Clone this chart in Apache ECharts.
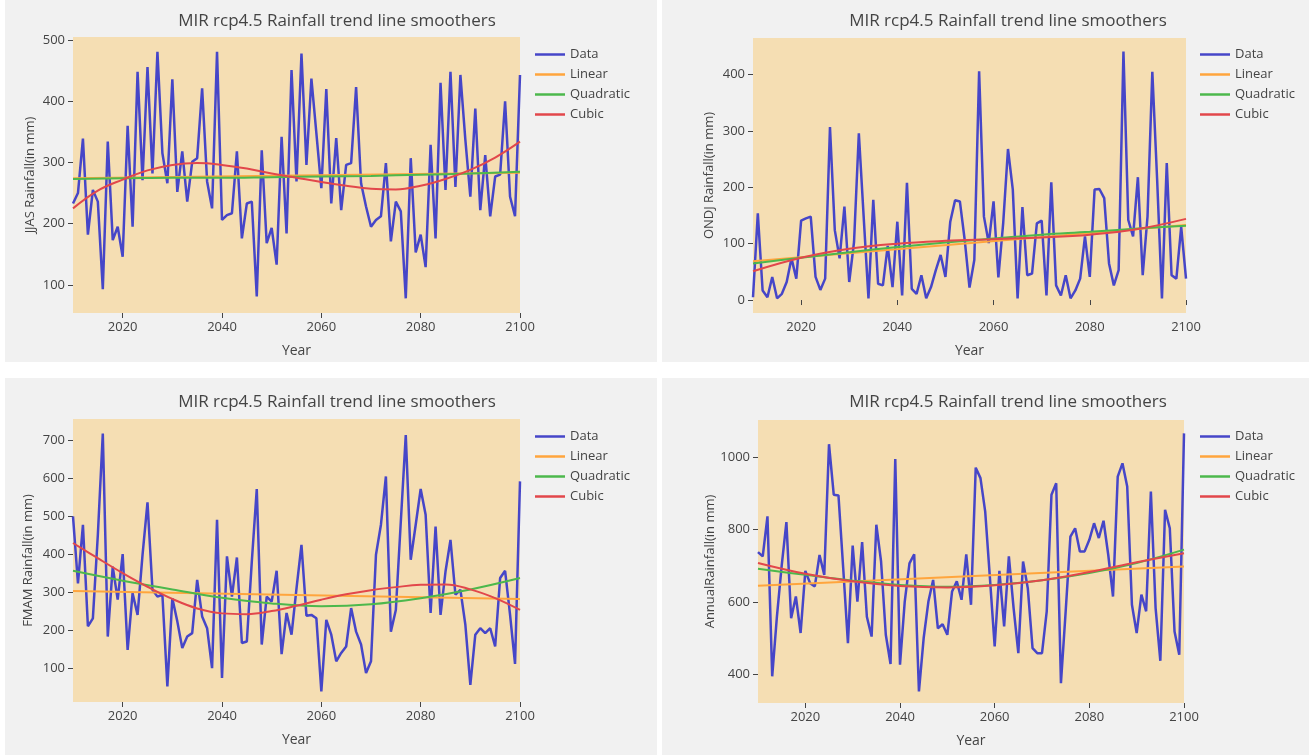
<!DOCTYPE html>
<html>
<head>
<meta charset="utf-8">
<script src="https://cdn.jsdelivr.net/npm/echarts@6/dist/echarts.min.js"></script>
<style>
html,body{margin:0;padding:0;background:#fff;}
#chart{width:1309px;height:755px;}
</style>
</head>
<body>
<div id="chart"></div>
<script>
// ---- data ----
const titleText = 'MIR rcp4.5 Rainfall trend line smoothers';
const seriesNames = ['Data', 'Linear', 'Quadratic', 'Cubic'];
const xTicks = [2020, 2040, 2060, 2080, 2100];
const yTicks1 = [100, 200, 300, 400, 500];
const yTicks2 = [0, 100, 200, 300, 400];
const yTicks3 = [100, 200, 300, 400, 500, 600, 700];
const yTicks4 = [400, 600, 800, 1000];
const yNames = ['JJAS Rainfall(in mm)', 'ONDJ Rainfall(in mm)', 'FMAM Rainfall(in mm)', 'AnnualRainfall(in mm)'];

const years = [];
for (let y = 2010; y <= 2100; y++) years.push(y);
const trendYears10 = [2010, 2020, 2030, 2040, 2050, 2060, 2070, 2080, 2090, 2100];
const trendYears5 = [2010, 2015, 2020, 2025, 2030, 2035, 2040, 2045, 2050, 2055, 2060, 2065, 2070, 2075, 2080, 2085, 2090, 2095, 2100];
const linearYears = [2010, 2100];

const jjas = [233,250,339,182,255,236,93,334,173,195,
  146,360,195,448,271,456,282,481,315,266,
  436,252,318,236,301,307,421,269,225,481,
  206,214,217,318,176,233,236,81,320,168,
  193,133,342,184,451,269,478,296,437,348,
  258,420,233,340,222,296,299,423,266,228,
  195,206,212,299,171,236,220,78,307,153,
  182,129,329,176,430,255,448,260,443,337,
  244,388,222,312,212,277,280,400,244,212,443];
const jjasLinear = [274, 283];
const jjasQuad = [273, 274, 275, 275, 276, 277, 278, 280, 282, 285];
const jjasCubic = [225,254,272,287,296,299,296,290,282,275,268,262,257,256,262,273,288,308,334];

const ondj = [5,154,17,5,41,3,11,32,74,38,
  141,145,148,41,18,38,307,124,74,166,
  32,103,296,148,3,178,29,26,96,23,
  139,8,208,20,11,44,3,23,53,80,
  41,139,177,175,107,22,71,406,148,101,
  175,40,136,268,196,3,165,44,47,136,
  141,8,209,26,8,44,3,17,38,113,
  41,196,197,181,65,26,53,441,142,113,
  218,44,148,405,214,3,243,44,38,130,38];
const ondjLinear = [69, 133];
const ondjQuad = [65, 75, 85, 94, 102, 109, 116, 121, 127, 132];
const ondjCubic = [51, 75, 91, 100, 105, 108, 111, 116, 126, 144];

const fmam = [499,323,477,210,231,450,717,183,367,280,
  400,148,297,240,398,536,306,288,293,52,
  284,223,153,183,192,332,236,205,100,490,
  74,394,288,391,166,170,380,571,162,288,
  275,356,137,245,188,310,424,238,240,231,
  39,227,188,118,140,157,258,196,162,87,
  118,398,477,604,196,253,485,713,385,477,
  571,503,245,472,240,354,437,293,306,214,
  56,188,205,192,205,157,337,356,240,111,591];
const fmamLinear = [303, 282];
const fmamQuad = [356, 330, 307, 285, 270, 263, 268, 284, 307, 337];
const fmamCubic = [429,389,350,314,282,257,244,242,250,264,280,294,305,313,319,320,307,284,253];

const annual = [738,726,837,394,560,700,821,555,615,514,
  686,652,643,730,675,1037,897,895,694,486,
  756,601,766,559,504,814,712,509,428,996,
  426,601,707,732,352,500,601,661,527,538,
  509,629,657,606,732,592,972,943,850,666,
  477,686,532,726,583,458,712,638,472,458,
  458,574,897,929,375,574,781,804,740,740,
  772,818,777,825,730,615,947,984,920,592,
  514,620,574,906,583,437,855,804,518,454,1067];
const annualLinear = [645, 698];
const annualQuad = [692, 675, 659, 647, 642, 647, 660, 680, 708, 745];
const annualCubic = [708, 678, 657, 644, 640, 646, 660, 683, 710, 735];

// ---- layout / style ----
const colors = { Data: '#4646c8', Linear: '#ffa53d', Quadratic: '#4cb84c', Cubic: '#e2474b' };
const font = '"Open Sans", "DejaVu Sans", sans-serif';
const txt = '#444';

const panels = [
  { grid: { left: 73, top: 37, width: 447, height: 276 }, ymin: 54, ymax: 505, yTicks: yTicks1, nameGap: 36,
    data: jjas, lin: jjasLinear, quad: jjasQuad, quadYears: trendYears10, cub: jjasCubic, cubYears: trendYears5,
    title: { x: 332, y: 8 }, legend: { left: 535, top: 48 }, bg: [5, 0, 652, 362] },
  { grid: { left: 753, top: 38, width: 433, height: 275 }, ymin: -23, ymax: 465, yTicks: yTicks2, nameGap: 37,
    data: ondj, lin: ondjLinear, quad: ondjQuad, quadYears: trendYears10, cub: ondjCubic, cubYears: trendYears10,
    title: { x: 1003, y: 8 }, legend: { left: 1200, top: 48 }, bg: [662, 0, 647, 362] },
  { grid: { left: 73, top: 419, width: 447, height: 283 }, ymin: 11, ymax: 755, yTicks: yTicks3, nameGap: 38,
    data: fmam, lin: fmamLinear, quad: fmamQuad, quadYears: trendYears10, cub: fmamCubic, cubYears: trendYears5,
    title: { x: 332, y: 389 }, legend: { left: 535, top: 430 }, bg: [5, 378, 652, 377] },
  { grid: { left: 758, top: 420, width: 426, height: 283 }, ymin: 320, ymax: 1104, yTicks: yTicks4, nameGap: 39,
    data: annual, lin: annualLinear, quad: annualQuad, quadYears: trendYears10, cub: annualCubic, cubYears: trendYears10,
    title: { x: 1003, y: 389 }, legend: { left: 1200, top: 430 }, bg: [662, 378, 647, 377] }
];

function pairs(xs, ys) { return xs.map((x, i) => [x, ys[i]]); }
const plain = v => String(v);

const option = {
  animation: false,
  backgroundColor: '#fff',
  textStyle: { fontFamily: font },
  graphic: panels.map(p => ({
    type: 'rect', z: -10, silent: true,
    shape: { x: p.bg[0], y: p.bg[1], width: p.bg[2], height: p.bg[3] },
    style: { fill: '#f1f1f1' }
  })),
  title: panels.map(p => ({
    text: titleText, left: p.title.x, top: p.title.y, textAlign: 'center',
    textStyle: { color: txt, fontSize: 17, fontWeight: 'normal', fontFamily: font }
  })),
  legend: panels.map(p => ({
    data: seriesNames, orient: 'vertical', left: p.legend.left, top: p.legend.top,
    icon: 'rect', itemWidth: 30, itemHeight: 2.5, itemGap: 7, padding: 0,
    textStyle: { color: txt, fontSize: 13, fontFamily: font }
  })),
  grid: panels.map(p => Object.assign({ show: true, backgroundColor: '#f5deb3', borderWidth: 0, containLabel: false }, p.grid)),
  xAxis: panels.map((p, i) => ({
    type: 'value', gridIndex: i, min: 2010, max: 2100,
    axisLine: { show: false },
    axisTick: { show: true, length: 5, customValues: xTicks, lineStyle: { color: txt } },
    axisLabel: { customValues: xTicks, formatter: plain, color: txt, fontSize: 13, margin: 8, fontFamily: font },
    splitLine: { show: false },
    name: 'Year', nameLocation: 'middle', nameGap: 31,
    nameTextStyle: { color: txt, fontSize: 14, fontFamily: font }
  })),
  yAxis: panels.map((p, i) => ({
    type: 'value', gridIndex: i, min: p.ymin, max: p.ymax,
    axisLine: { show: false },
    axisTick: { show: true, length: 5, customValues: p.yTicks, lineStyle: { color: txt } },
    axisLabel: { customValues: p.yTicks, formatter: plain, color: txt, fontSize: 13, margin: 8, fontFamily: font },
    splitLine: { show: false },
    name: yNames[i], nameLocation: 'middle', nameGap: p.nameGap,
    nameTextStyle: { color: txt, fontSize: 13, fontFamily: font }
  })),
  series: []
};

panels.forEach((p, i) => {
  const common = { type: 'line', xAxisIndex: i, yAxisIndex: i, symbol: 'none' };
  option.series.push(Object.assign({}, common, {
    name: 'Data', data: pairs(years, p.data), color: colors.Data,
    lineStyle: { width: 2.5, color: colors.Data }
  }));
  option.series.push(Object.assign({}, common, {
    name: 'Linear', data: pairs(linearYears, p.lin), color: colors.Linear,
    lineStyle: { width: 2, color: colors.Linear }
  }));
  option.series.push(Object.assign({}, common, {
    name: 'Quadratic', smooth: 0.4, data: pairs(p.quadYears, p.quad), color: colors.Quadratic,
    lineStyle: { width: 2, color: colors.Quadratic }
  }));
  option.series.push(Object.assign({}, common, {
    name: 'Cubic', smooth: 0.4, data: pairs(p.cubYears, p.cub), color: colors.Cubic,
    lineStyle: { width: 2, color: colors.Cubic }
  }));
});

const chart = echarts.init(document.getElementById('chart'), null, { renderer: 'canvas' });
chart.setOption(option);
</script>
</body>
</html>
